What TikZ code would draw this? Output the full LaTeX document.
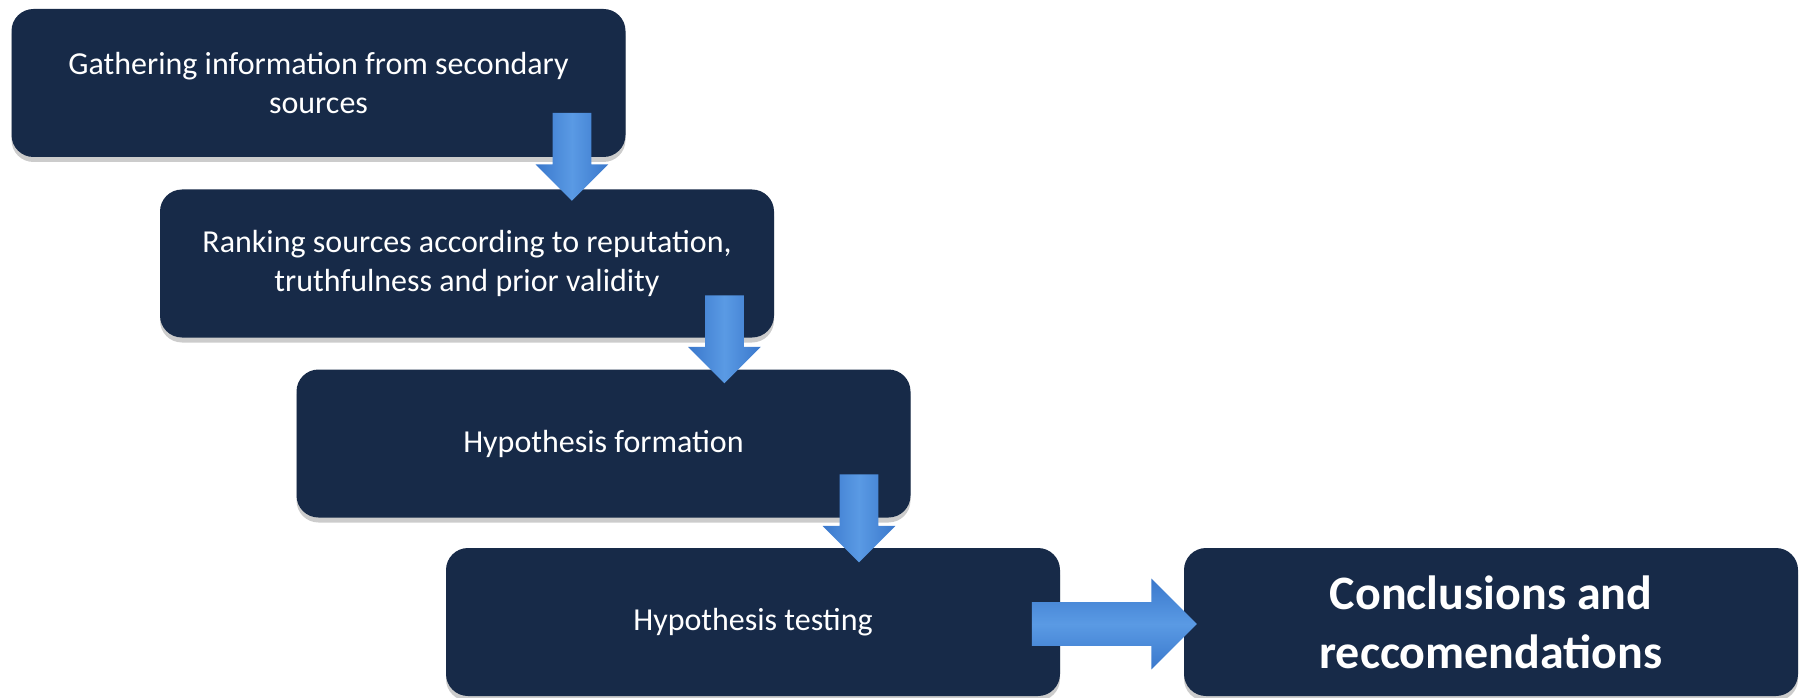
\documentclass[tikz,border=0pt]{standalone}
\usepackage{fontspec}
\setmainfont{Carlito}
\usetikzlibrary{calc,positioning,shapes.arrows,shadows}
\definecolor{boxnavy}{HTML}{172A48}
\definecolor{arrowblue}{HTML}{3A78CC}
\definecolor{arrowlight}{HTML}{5A9AE4}
\tikzset{
  stepbox/.style   = {rectangle, rounded corners=11pt, fill=boxnavy, text=white,
                      minimum width=307pt, minimum height=74pt, align=center,
                      font=\fontsize{16}{19.5}\selectfont,
                      drop shadow={shadow xshift=0pt, shadow yshift=-2.5pt, opacity=.4}},
  downarrow/.style = {single arrow, shape border rotate=270, inner xsep=9.5pt, inner ysep=0pt,
                      minimum height=44pt,
                      single arrow head extend=8.5pt, single arrow tip angle=90,
                      left color=arrowblue, right color=arrowblue, middle color=arrowlight},
  rightarrow/.style = {single arrow, inner xsep=0pt, inner ysep=10.75pt,
                      minimum height=82.5pt,
                      single arrow head extend=11.75pt, single arrow tip angle=90,
                      top color=arrowblue, bottom color=arrowblue, middle color=arrowlight},
}
\begin{document}
\begin{tikzpicture}[x=0.5pt,y=0.5pt]
  \useasboundingbox (0,0) rectangle (1802,697);
  % steps
  \node[stepbox] (gather) at (318.5,614) {Gathering information from secondary\\sources};
  \node[stepbox] (rank)   at (467,433.5) {Ranking sources according to reputation,\\truthfulness and prior validity};
  \node[stepbox] (form)   at (603.5,253.5) {Hypothesis formation};
  \node[stepbox] (test)   at (753,75) {Hypothesis testing};
  \node[stepbox, font=\fontsize{24}{29.5}\selectfont\bfseries] (concl) at (1491,75)
    {Conclusions and\\reccomendations};
  % block arrows
  \node[downarrow, anchor=tip] (a1) at ($(gather.south east)+(-54,-44)$) {};
  \node[downarrow, anchor=tip] (a2) at ($(rank.south east)+(-50,-46)$) {};
  \node[downarrow, anchor=tip] (a3) at ($(form.south east)+(-52,-45)$) {};
  \node[rightarrow, anchor=tip] (a4) at ($(test.east)+(137,-2)$) {};
\end{tikzpicture}
\end{document}
